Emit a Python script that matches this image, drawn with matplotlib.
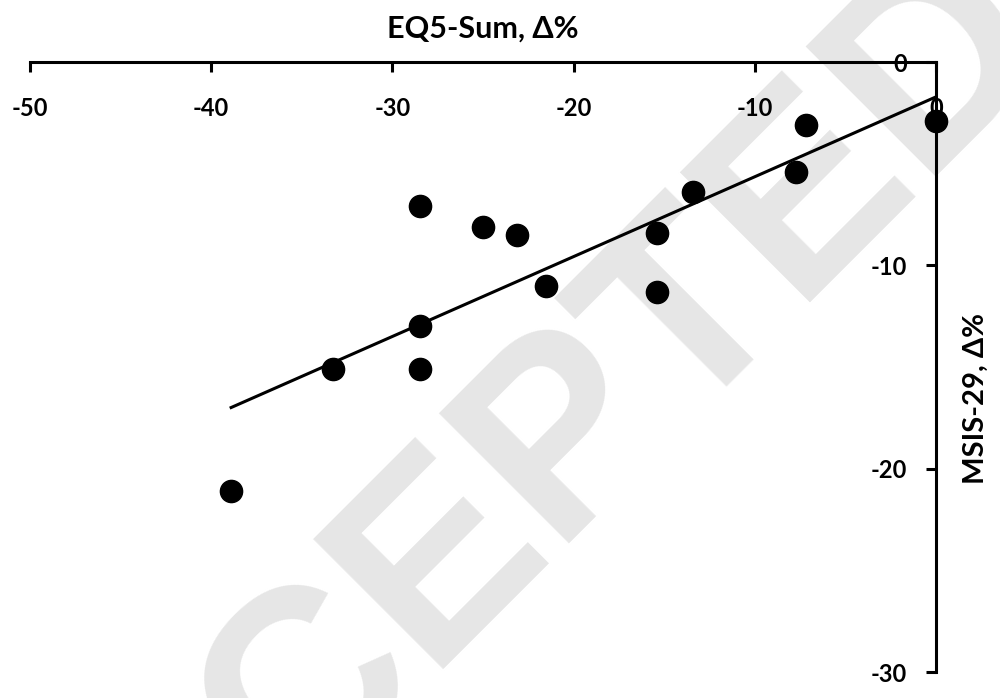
import numpy as np
import matplotlib.pyplot as plt

# change from baseline, %
eq5_sum = [0.0, -7.2, -7.7, -13.4, -15.4, -15.4, -21.5, -23.1, -25.0,
           -28.5, -28.5, -28.5, -33.3, -38.9]
msis_29 = [-2.9, -3.1, -5.4, -6.4, -8.4, -11.3, -11.0, -8.5, -8.1,
           -7.1, -13.0, -15.1, -15.1, -21.1]

x_ticks = [-50, -40, -30, -20, -10, 0]
y_ticks = [0, -10, -20, -30]

plt.rcParams["font.family"] = ["Lato", "DejaVu Sans"]
plt.rcParams["font.weight"] = "bold"

fig = plt.figure(figsize=(10, 6.98), dpi=100)
ax = fig.add_axes([0.030, 1 - 672 / 698, 0.906, 610 / 698])
ax.set_facecolor("none")

# watermark, behind everything (anchored on its baseline)
fig.text(0.540, 1 - 566 / 698, "ACCEPTED", fontsize=192, color="#e6e6e6",
         family="Liberation Sans", rotation=45, rotation_mode="anchor",
         ha="center", va="baseline", fontweight="bold", zorder=-1)

x = np.array(eq5_sum)
y = np.array(msis_29)
slope, intercept = np.polyfit(x, y, 1)
xl = np.array([x.min(), x.max()])
ax.plot(xl, slope * xl + intercept, color="black", lw=2.2, zorder=3)
ax.plot(x, y, "o", color="black", markersize=16, zorder=4, clip_on=False)

ax.set_xlim(-50, 0)
ax.set_ylim(-30, 0)

for s in ["left", "bottom"]:
    ax.spines[s].set_visible(False)
for s in ["top", "right"]:
    ax.spines[s].set_linewidth(2.2)

ax.xaxis.tick_top()
ax.yaxis.tick_right()
ax.set_xticks(x_ticks)
ax.set_yticks(y_ticks)
ax.set_xticklabels([str(v) for v in x_ticks])
ax.set_yticklabels([str(v) for v in y_ticks])
ax.tick_params(axis="x", direction="in", length=7, width=2.2, pad=-25,
               labelsize=17)
ax.tick_params(axis="y", direction="in", length=7, width=2.2, pad=-21,
               labelsize=17)
for lbl in ax.get_xticklabels():
    lbl.set_verticalalignment("top")
for lbl in ax.get_yticklabels():
    lbl.set_horizontalalignment("right")

ax.set_xlabel("EQ5-Sum, Δ%", fontsize=22, fontweight="bold")
ax.xaxis.set_label_position("top")
ax.xaxis.set_label_coords(0.5, 1 + 24 / 610)
ax.set_ylabel("MSIS-29, Δ%", fontsize=21, fontweight="bold")
ax.yaxis.set_label_position("right")
ax.yaxis.set_label_coords(1 + 27 / 906, 1 - 336 / 610)

fig.savefig("out.png", dpi=100)
